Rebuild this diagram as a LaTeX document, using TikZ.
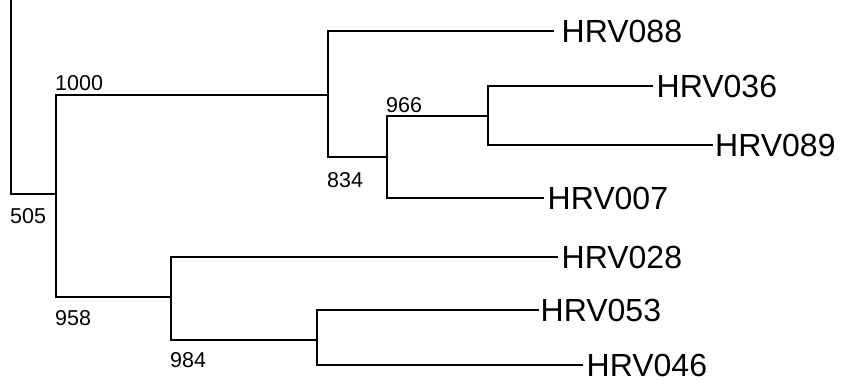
\documentclass[tikz,border=0pt]{standalone}
\usepackage{fontspec}
\setmainfont{Liberation Sans}
\begin{document}
\begin{tikzpicture}[x=1pt,y=-1pt,
  branch/.style={line width=2.9pt, line cap=rect, line join=miter},
  leaf/.style={anchor=west, inner sep=0pt, font=\fontsize{32}{34}\selectfont},
  support/.style={anchor=base west, inner sep=0pt, font=\fontsize{21.5}{23}\selectfont}]
\useasboundingbox (0,0) rectangle (852,380);
% tree nodes
\coordinate (top) at (11,-3);
\coordinate (n0) at (11,194);
\coordinate (n505) at (56,194);
\coordinate (n1000) at (328,95);
\coordinate (n834) at (387,157);
\coordinate (n966) at (488,116);
\coordinate (n958) at (171,297);
\coordinate (n984) at (317,340);
% tips
\coordinate (t088) at (553,31);
\coordinate (t036) at (652,86);
\coordinate (t089) at (712,145);
\coordinate (t007) at (543,198);
\coordinate (t028) at (557,257);
\coordinate (t053) at (538,310);
\coordinate (t046) at (582,365);
% branches
\draw[branch] (top) -- (n0) -- (n505);
\draw[branch] (n1000) -| (n505) |- (n958);
\draw[branch] (t088) -| (n1000) |- (n834);
\draw[branch] (n966) -| (n834) |- (t007);
\draw[branch] (t036) -| (n966) |- (t089);
\draw[branch] (t028) -| (n958) |- (n984);
\draw[branch] (t053) -| (n984) |- (t046);
% leaf labels
\node[leaf] (L088) at ([xshift=8.5pt]t088) {HRV088};
\node[leaf] (L036) at ([xshift=4.5pt]t036) {HRV036};
\node[leaf] (L089) at ([xshift=3pt]t089) {HRV089};
\node[leaf] (L007) at ([xshift=4.5pt]t007) {HRV007};
\node[leaf] (L028) at ([xshift=4.5pt]t028) {HRV028};
\node[leaf] (L053) at ([xshift=2.5pt]t053) {HRV053};
\node[leaf] (L046) at ([xshift=4.5pt]t046) {HRV046};
% support values
\node[support] (s1000) at (55,90) {1000};
\node[support] (s966) at (386,112) {966};
\node[support] (s834) at (327,187) {834};
\node[support] (s505) at (10,223) {505};
\node[support] (s958) at (55,325) {958};
\node[support] (s984) at (170,367) {984};
\end{tikzpicture}
\end{document}
